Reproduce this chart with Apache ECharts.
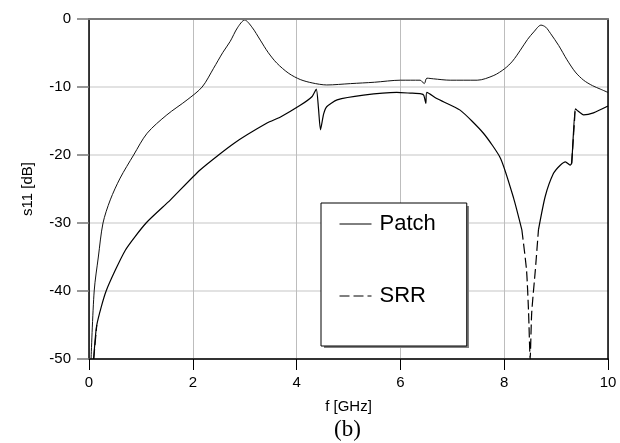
<!DOCTYPE html>
<html>
<head>
<meta charset="utf-8">
<script src="https://cdn.jsdelivr.net/npm/echarts@6/dist/echarts.min.js"></script>
<style>html,body{margin:0;padding:0;background:#fff}#c{width:620px;height:443px}</style>
</head>
<body>
<div id="c"></div>
<script>
// Frequency axis ticks and magnitude axis ticks
const xTicks = [0, 2, 4, 6, 8, 10];
const yTicks = [-50, -40, -30, -20, -10, 0];

// Patch: frequency (GHz) and s11 (dB)
const patchF  = [0.04, 0.10, 0.18, 0.27, 0.41, 0.60, 0.86, 1.12, 1.50, 1.89, 2.18, 2.40, 2.58, 2.72, 2.86, 3.00, 3.14, 3.30, 3.45, 3.62, 3.85, 4.07, 4.30, 4.58, 5.04, 5.50, 6.00, 6.38, 6.46, 6.51, 6.64, 6.96, 7.48, 7.80, 8.01, 8.16, 8.31, 8.45, 8.57, 8.71, 8.80, 8.89, 9.05, 9.21, 9.37, 9.53, 9.70, 9.85, 10.0];
const patchDb = [-50, -40, -35, -30, -26.6, -23.4, -20, -16.8, -14.1, -11.9, -10, -7.25, -4.9, -3.3, -1.3, -0.15, -1.2, -3.1, -4.9, -6.5, -8.0, -8.9, -9.4, -9.7, -9.5, -9.3, -9.0, -9.0, -9.5, -8.7, -8.8, -9.0, -9.0, -8.3, -7.3, -6.2, -4.6, -3.0, -1.9, -0.9, -1.2, -2.1, -3.9, -6.0, -7.8, -9.0, -9.8, -10.3, -10.8];

// SRR: frequency (GHz) and s11 (dB)
const srrF  = [0.09, 0.15, 0.33, 0.70, 1.10, 1.57, 2.14, 2.79, 3.43, 3.69, 4.07, 4.30, 4.38, 4.42, 4.46, 4.52, 4.58, 4.78, 5.29, 5.93, 6.19, 6.40, 6.45, 6.49, 6.51, 6.70, 7.15, 7.60, 7.93, 8.18, 8.34, 8.43, 8.47, 8.50, 8.53, 8.60, 8.66, 8.79, 8.95, 9.08, 9.18, 9.27, 9.30, 9.37, 9.40, 9.53, 9.72, 10.0];
const srrDb = [-50, -45, -40, -34, -30, -26.6, -22.2, -18.3, -15.3, -14.4, -12.7, -11.4, -10.3, -13.0, -16.3, -14.0, -12.9, -11.9, -11.2, -10.8, -10.9, -11.0, -11.2, -12.4, -10.8, -11.7, -13.4, -16.8, -20.5, -26.3, -31.0, -36.9, -43.2, -50, -43.2, -36.9, -31.0, -26.1, -22.7, -21.5, -21.0, -21.5, -21.2, -13.2, -13.4, -14.1, -13.8, -12.8];

// Frequency ranges where the SRR trace shows as dashed
const srrDashedRanges = [[0.09, 0.15], [8.34, 8.66], [9.30, 9.37]];

function inRange(f, r) { return f >= r[0] - 1e-9 && f <= r[1] + 1e-9; }
const dashedData = [], solidData = [];
srrDashedRanges.forEach((r, k) => {
  if (k > 0) dashedData.push(['-', '-']);
  srrF.forEach((f, i) => { if (inRange(f, r)) dashedData.push([f, srrDb[i]]); });
});
let prevIn = true;
srrF.forEach((f, i) => {
  const strictlyInside = srrDashedRanges.some(r => f > r[0] + 1e-9 && f < r[1] - 1e-9);
  if (strictlyInside) { if (!prevIn) solidData.push(['-', '-']); prevIn = true; return; }
  solidData.push([f, srrDb[i]]); prevIn = false;
});
const patchData = patchF.map((f, i) => [f, patchDb[i]]);

const FONT = 'Liberation Sans, Arial, sans-serif';
const chart = echarts.init(document.getElementById('c'), null, {renderer: 'canvas'});
chart.setOption({
  animation: false,
  backgroundColor: '#fff',
  grid: {left: 89, right: 12, top: 19, bottom: 84},
  legend: {
    data: ['Patch', 'SRR'],
    orient: 'vertical', left: 321, top: 203, z: 10,
    itemWidth: 32, itemHeight: 22, itemGap: 50,
    padding: [10, 31, 39, 18],
    backgroundColor: '#fff', borderColor: '#000', borderWidth: 1,
    itemStyle: {opacity: 0, color: 'transparent', borderWidth: 0},
    lineStyle: {color: '#000', width: 1},
    textStyle: {fontSize: 22, fontFamily: FONT, color: '#000', padding: [0, 0, 0, 3]}
  },
  xAxis: [{
    type: 'value', position: 'bottom', min: xTicks[0], max: xTicks[xTicks.length - 1], interval: 2,
    axisLine: {show: true, onZero: false, lineStyle: {color: '#333', width: 2}},
    axisTick: {show: true, length: 11, lineStyle: {color: '#000', width: 1}},
    axisLabel: {fontSize: 15, fontFamily: FONT, color: '#000', margin: 16},
    splitLine: {show: true, lineStyle: {color: '#bdbdbd', width: 1}},
    name: 'f [GHz]', nameLocation: 'middle', nameGap: 40,
    nameTextStyle: {fontSize: 15, fontFamily: FONT, color: '#000'}
  }, {
    type: 'value', position: 'top', min: 0, max: 10,
    axisLine: {show: true, onZero: false, lineStyle: {color: '#777', width: 2}},
    axisTick: {show: false}, axisLabel: {show: false}, splitLine: {show: false}, z: 5
  }],
  yAxis: [{
    type: 'value', position: 'left', min: yTicks[0], max: yTicks[yTicks.length - 1], interval: 10,
    axisLine: {show: true, onZero: false, lineStyle: {color: '#000', width: 1.5}},
    axisTick: {show: true, length: 12, lineStyle: {color: '#777', width: 1.5}},
    axisLabel: {fontSize: 15, fontFamily: FONT, color: '#000', margin: 18},
    splitLine: {show: true, lineStyle: {color: '#d9d9d9', width: 1.5}},
    name: 's11 [dB]', nameLocation: 'middle', nameGap: 54,
    nameTextStyle: {fontSize: 15, fontFamily: FONT, color: '#000'}
  }, {
    type: 'value', position: 'right', min: -50, max: 0,
    axisLine: {show: true, onZero: false, lineStyle: {color: '#000', width: 1.5}},
    axisTick: {show: false}, axisLabel: {show: false}, splitLine: {show: false}, z: 5
  }],
  series: [{
    name: 'Patch', type: 'line', data: patchData, smooth: 0.3, showSymbol: false, symbol: 'none',
    itemStyle: {color: '#111'}, lineStyle: {color: '#111', width: 1}, z: 3
  }, {
    name: 'SRR', type: 'line', data: dashedData, smooth: 0.2, showSymbol: false, symbol: 'none',
    connectNulls: false, itemStyle: {color: '#000'}, lineStyle: {color: '#000', width: 1.2, type: [10, 4]}, z: 3
  }, {
    name: 'SRR-solid', type: 'line', data: solidData, smooth: 0.2, showSymbol: false, symbol: 'none',
    connectNulls: false, itemStyle: {color: '#000'}, lineStyle: {color: '#000', width: 1.2}, z: 3
  }],
  graphic: [{
    type: 'rect', z: 9, left: 324, top: 206,
    shape: {width: 145, height: 142},
    style: {fill: '#808080'}
  }, {
    type: 'text', left: 334, top: 418,
    style: {text: '(b)', font: '23px "Liberation Serif", "Times New Roman", serif', fill: '#000'}
  }]
});
</script>
</body>
</html>
